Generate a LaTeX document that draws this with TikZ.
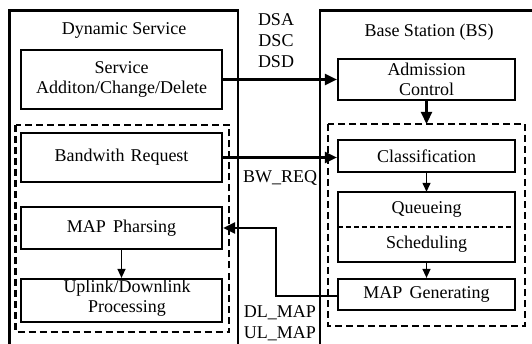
\documentclass[tikz,border=0pt]{standalone}
\usepackage{fontspec}
\setmainfont{Liberation Serif}
\usetikzlibrary{arrows.meta}
\begin{document}
\begin{tikzpicture}[x=1pt,y=-1pt,
  every node/.style={font=\fontsize{18}{20}\selectfont, inner sep=0pt, align=center},
  frame/.style={draw, line width=2.2pt},
  grp/.style={draw, line width=2.2pt, dash pattern=on 7pt off 4pt},
  blk/.style={draw, line width=2.2pt, minimum width=#1, text width=#1},
  blk/.default=201pt,
  link/.style={line width=2.2pt, -{Triangle[length=12pt,width=11pt]}},
  flow/.style={line width=1.4pt, -{Triangle[length=9pt,width=8pt]}},
  lbl/.style={font=\fontsize{18}{20}\selectfont, align=left}
]
\useasboundingbox (0,0) rectangle (532,344);
\clip (0,0) rectangle (532,344);
\fill[white] (0,0) rectangle (532,344);

% outer frames (run past the lower and right edges)
\draw[frame] (9.5,360) -- (9.5,10.5) -- (238,10.5) -- (238,360);
\draw[frame] (320,360) -- (320,10.5) -- (545,10.5);
\node (dstitle) at (124,30) {Dynamic Service};
\node (bstitle) at (429,32) {Base Station (BS)};

% dashed groups
\draw[grp] (15.5,125) rectangle (229,332);
\draw[grp] (328,124) rectangle (525,326);

% subscriber side blocks
\node[blk, minimum height=59pt] (svc) at (121.5,79.5) {Service\\Additon/Change/Delete};
\node[blk, minimum height=49pt] (bw) at (121.5,157.5) {Bandwith Request};
\node[blk, minimum height=42pt] (mapp) at (121.5,228) {MAP\hspace{0.4em}Pharsing};
\node[blk, minimum height=43pt] (uldl) at (121.5,300.5) {};
\node (uldltxt) at (127,298) {Uplink/Downlink\\Processing};

% base station blocks
\node[blk=177pt, minimum height=41pt] (adm) at (426.5,79.5) {Admission\\Control};
\node[blk=177pt, minimum height=32pt] (cls) at (426.5,156) {Classification};
\node[minimum width=177pt, minimum height=35pt] (que) at (426.5,209.5) {Queueing};
\node[minimum width=177pt, minimum height=35pt] (sch) at (426.5,244.5) {Scheduling};
\draw[line width=2.2pt] (que.north west) rectangle (sch.south east);
\draw[line width=1.5pt, dash pattern=on 5pt off 3pt] (que.south west) -- (que.south east);
\node[blk=177pt, minimum height=31pt] (mapg) at (426.5,294.5) {MAP\hspace{0.4em}Generating};

% messages between the two sides
\draw[link] (svc.east) -- (adm.west);
\draw[link] (bw.east) -- (bw.east -| cls.west);
\coordinate (bend1) at (276,296);
\coordinate (bend2) at (276,228);
\draw[link] (mapg.west |- bend1) -- (bend1) -- (bend2) -- (mapp.east);

\node[lbl] (dsa) at (276,20) {DSA};
\node[lbl] (dsc) at (276,41) {DSC};
\node[lbl] (dsd) at (276,62) {DSD};
\node[lbl] (bwreq) at (280,178) {BW\_REQ};
\node[lbl] (dlmap) at (280,313) {DL\_MAP};
\node[lbl] (ulmap) at (280,334) {UL\_MAP};

% internal flow
\draw[link] (adm.south) -- (426.5,124);
\draw[flow] (cls.south) -- (que.north);
\draw[flow] (sch.south) -- (mapg.north);
\draw[flow] (mapp.south) -- (uldl.north);
\end{tikzpicture}
\end{document}
